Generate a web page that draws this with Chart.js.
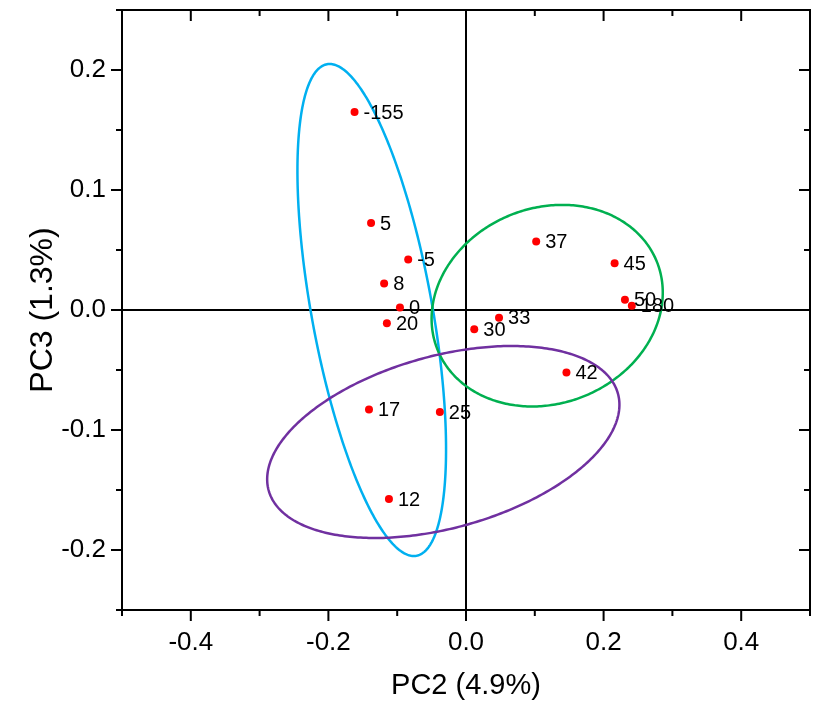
<!DOCTYPE html>
<html>
<head>
<meta charset="utf-8">
<script src="https://cdn.jsdelivr.net/npm/chart.js@4.4.1/dist/chart.umd.min.js"></script>
<style>
    html, body { margin: 0; padding: 0; background: #fff; }
    #wrap { width: 820px; height: 704px; }
</style>
</head>
<body>
<div id="wrap"><canvas id="pcaChart" width="820" height="704"></canvas></div>
<script>
        // --- 1. Data ---

        const sampleLabels = ['-155', '5', '-5', '8', '0', '20', '17', '25', '12', '37', '45', '50', '180', '33', '30', '42'];
        const pc2Scores = [-0.162, -0.138, -0.084, -0.119, -0.096, -0.115, -0.141, -0.038, -0.112, 0.102, 0.216, 0.231, 0.241, 0.048, 0.012, 0.146];
        const pc3Scores = [0.165, 0.0725, 0.042, 0.022, 0.002, -0.011, -0.083, -0.085, -0.1575, 0.057, 0.039, 0.0085, 0.0035, -0.0065, -0.016, -0.052];

        const xTickValues = [-0.4, -0.2, 0.0, 0.2, 0.4];
        const yTickValues = [-0.2, -0.1, 0.0, 0.1, 0.2];
        const xMinorTicks = [-0.5, -0.3, -0.1, 0.1, 0.3, 0.5];
        const yMinorTicks = [-0.25, -0.15, -0.05, 0.05, 0.15, 0.25];

        // confidence ellipses: centre, half-extent on each axis, correlation
        const ellipseCx = [-0.137, 0.118, -0.033];
        const ellipseCy = [0.0, 0.0036, -0.110];
        const ellipseRx = [0.108, 0.168, 0.256];
        const ellipseRy = [0.205, 0.084, 0.080];
        const ellipseRho = [-0.566, 0.13, 0.388];
        const ellipseColors = ['#00b0f0', '#00b050', '#7030a0'];

        const FONT = '"Liberation Sans", Arial, sans-serif';

        // --- 2. Plugins: frame, ticks, zero lines, ellipses, point labels ---

        const framePlugin = {
            id: 'frame',
            beforeDatasetsDraw(chart) {
                const { ctx, chartArea: a, scales: { x, y } } = chart;
                ctx.save();
                ctx.strokeStyle = '#000';
                ctx.lineWidth = 2;
                // zero lines
                ctx.beginPath();
                ctx.moveTo(x.getPixelForValue(0), a.top);
                ctx.lineTo(x.getPixelForValue(0), a.bottom);
                ctx.moveTo(a.left, y.getPixelForValue(0));
                ctx.lineTo(a.right, y.getPixelForValue(0));
                ctx.stroke();

                // ellipses
                ctx.lineWidth = 2.5;
                ctx.beginPath();
                ctx.rect(a.left, a.top, a.right - a.left, a.bottom - a.top);
                ctx.clip();
                ellipseCx.forEach((cx, k) => {
                    const s = Math.sqrt(1 - ellipseRho[k] * ellipseRho[k]);
                    ctx.strokeStyle = ellipseColors[k];
                    ctx.beginPath();
                    for (let i = 0; i <= 360; i++) {
                        const t = i * Math.PI / 180;
                        const vx = cx + ellipseRx[k] * Math.cos(t);
                        const vy = ellipseCy[k] + ellipseRy[k] * (ellipseRho[k] * Math.cos(t) + s * Math.sin(t));
                        const px = x.getPixelForValue(vx), py = y.getPixelForValue(vy);
                        if (i === 0) ctx.moveTo(px, py); else ctx.lineTo(px, py);
                    }
                    ctx.closePath();
                    ctx.stroke();
                });
                ctx.restore();
            },
            afterDraw(chart) {
                const { ctx, chartArea: a, scales: { x, y } } = chart;
                ctx.save();
                ctx.strokeStyle = '#000';
                ctx.lineWidth = 2;
                ctx.strokeRect(a.left, a.top, a.right - a.left, a.bottom - a.top);
                ctx.beginPath();
                const xt = (v, len) => {
                    const px = x.getPixelForValue(v);
                    ctx.moveTo(px, a.bottom); ctx.lineTo(px, a.bottom + len); // outward
                    ctx.moveTo(px, a.top); ctx.lineTo(px, a.top + len);       // inward
                };
                const yt = (v, len) => {
                    const py = y.getPixelForValue(v);
                    ctx.moveTo(a.left, py); ctx.lineTo(a.left - len, py);     // outward
                    ctx.moveTo(a.right, py); ctx.lineTo(a.right - len, py);   // inward
                };
                xTickValues.forEach(v => xt(v, 11));
                xMinorTicks.forEach(v => xt(v, 6));
                yTickValues.forEach(v => yt(v, 11));
                yMinorTicks.forEach(v => yt(v, 6));
                ctx.stroke();
                ctx.restore();
            },
            afterDatasetsDraw(chart) {
                const { ctx } = chart;
                const meta = chart.getDatasetMeta(0);
                ctx.save();
                ctx.fillStyle = '#000';
                ctx.font = '20px ' + FONT;
                ctx.textAlign = 'left';
                ctx.textBaseline = 'middle';
                meta.data.forEach((pt, i) => {
                    ctx.fillText(sampleLabels[i], pt.x + 9, pt.y + 1);
                });
                ctx.restore();
            }
        };

        // --- 3. Chart ---

        new Chart(document.getElementById('pcaChart'), {
            type: 'scatter',
            data: {
                datasets: [{
                    data: pc2Scores.map((v, i) => ({ x: v, y: pc3Scores[i] })),
                    backgroundColor: '#ff0000',
                    borderWidth: 0,
                    pointRadius: 4,
                }]
            },
            options: {
                responsive: false,
                animation: false,
                layout: { padding: { top: 10, right: 10, left: 0, bottom: 0 } },
                plugins: { legend: { display: false }, tooltip: { enabled: false } },
                scales: {
                    x: {
                        min: -0.5, max: 0.5,
                        grid: { display: false, drawTicks: false },
                        border: { display: false },
                        afterBuildTicks: s => { s.ticks = xTickValues.map(v => ({ value: v })); },
                        afterFit: s => { s.height = 94; s.paddingLeft = 0; s.paddingRight = 0; },
                        ticks: {
                            color: '#000', padding: 17,
                            font: { family: FONT, size: 26 },
                            callback: v => v.toFixed(1)
                        },
                        title: {
                            display: true, text: 'PC2 (4.9%)', color: '#000',
                            font: { family: FONT, size: 29 },
                            padding: { top: 0, bottom: 1 }
                        }
                    },
                    y: {
                        min: -0.25, max: 0.25,
                        grid: { display: false, drawTicks: false },
                        border: { display: false },
                        afterBuildTicks: s => { s.ticks = yTickValues.map(v => ({ value: v })); },
                        afterFit: s => { s.width = 122; s.paddingTop = 0; s.paddingBottom = 0; },
                        ticks: {
                            color: '#000', padding: 16,
                            font: { family: FONT, size: 26 },
                            callback: v => v.toFixed(1)
                        },
                        title: {
                            display: true, text: 'PC3 (1.3%)', color: '#000',
                            font: { family: FONT, size: 32 },
                            padding: { top: 24, bottom: 0 }
                        }
                    }
                }
            },
            plugins: [framePlugin]
        });
</script>
</body>
</html>
